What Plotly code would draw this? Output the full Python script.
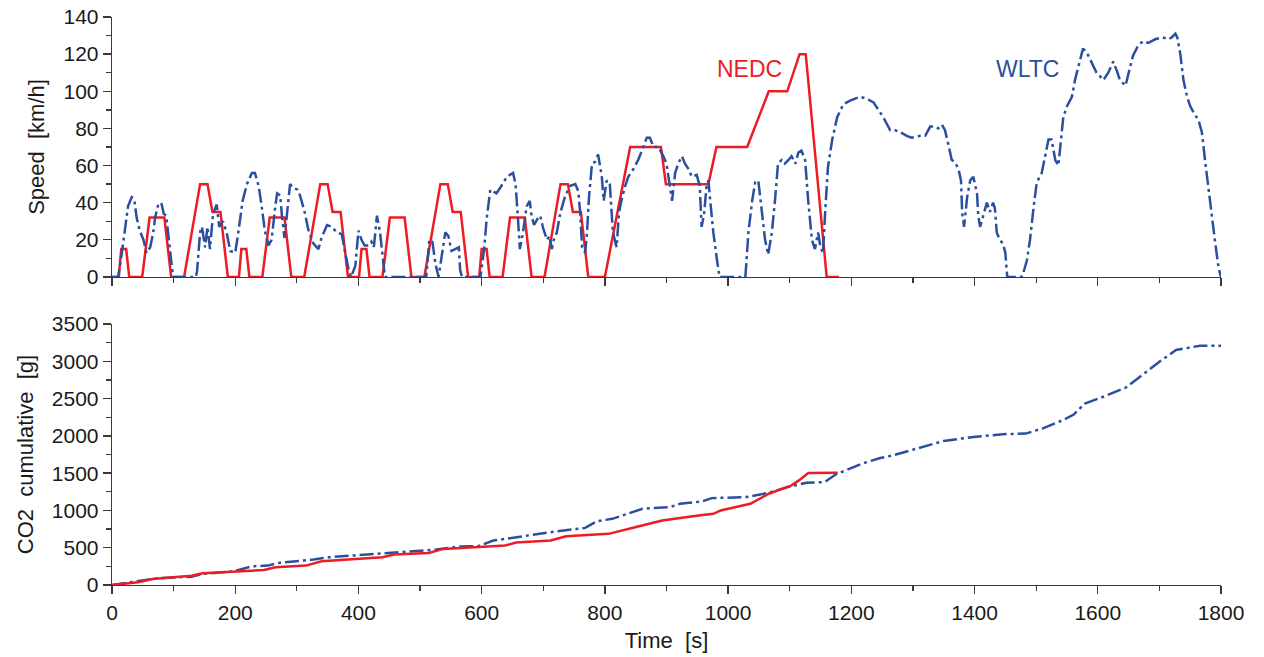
import plotly.graph_objects as go

# ---------------- data ----------------
# NEDC speed profile (time s, speed km/h)
nedc_t = [0, 11, 15, 23, 28, 49, 61, 85, 96, 117, 143, 155, 163, 176, 188,
          195, 206, 210, 218, 223, 244, 256, 280, 291, 312, 338, 350, 358, 371, 383,
          390, 401, 405, 413, 418, 439, 451, 475, 486, 507, 533, 545, 553, 566, 578,
          585, 596, 600, 608, 613, 634, 646, 670, 681, 702, 728, 740, 748, 761, 773,
          780, 800, 841, 891, 899, 968, 981, 1031, 1066, 1096, 1116, 1126, 1160, 1180]
nedc_v = [0, 0, 15, 15, 0, 0, 32, 32, 0, 0, 50, 50, 35, 35, 0,
          0, 0, 15, 15, 0, 0, 32, 32, 0, 0, 50, 50, 35, 35, 0,
          0, 0, 15, 15, 0, 0, 32, 32, 0, 0, 50, 50, 35, 35, 0,
          0, 0, 15, 15, 0, 0, 32, 32, 0, 0, 50, 50, 35, 35, 0,
          0, 0, 70, 70, 50, 50, 70, 70, 100, 100, 120, 120, 0, 0]

# WLTC speed profile
wltc_t = [0, 10, 16, 21, 26, 32, 36, 40, 45, 51, 56, 62, 67, 70, 75, 80, 84, 88, 91, 95, 99,
          136, 138, 143, 146, 151, 155, 159, 164, 170, 174, 180, 186, 192, 200, 205, 212, 219,
          227, 232, 238, 243, 248, 254, 259, 265, 268, 273, 276, 280, 283, 289, 294, 301, 305,
          312, 319, 327, 335, 340, 349, 357, 365, 373, 378, 384, 388, 395, 400, 405, 410, 416,
          421, 425, 430, 435, 441, 443, 510, 515, 520, 525, 530, 536, 541, 546, 551, 557, 563,
          565, 568, 598, 604, 608, 614, 619, 624, 632, 641, 651, 655, 659, 662, 667, 673, 678,
          681, 685, 690, 695, 700, 706, 710, 714, 717, 722, 728, 735, 743, 752, 757, 760, 763,
          768, 771, 774, 779, 784, 789, 795, 798, 803, 808, 813, 819, 823, 828, 833, 838, 846,
          854, 860, 868, 873, 879, 887, 895, 900, 906, 909, 914, 919, 925, 930, 936, 941, 949,
          954, 957, 961, 965, 968, 971, 976, 982, 986, 1028, 1033, 1039, 1044, 1049, 1055, 1060,
          1065, 1071, 1076, 1081, 1087, 1092, 1098, 1103, 1109, 1114, 1119, 1125, 1130, 1136,
          1141, 1146, 1150, 1154, 1157, 1162, 1169, 1177, 1187, 1198, 1214, 1225, 1236, 1244,
          1252, 1263, 1271, 1279, 1290, 1298, 1312, 1320, 1328, 1336, 1341, 1347, 1352, 1357,
          1363, 1368, 1374, 1378, 1380, 1383, 1388, 1393, 1398, 1404, 1406, 1409, 1414, 1420,
          1425, 1430, 1433, 1436, 1441, 1446, 1450, 1453, 1476, 1479, 1485, 1490, 1496, 1501,
          1509, 1515, 1520, 1525, 1531, 1536, 1540, 1544, 1550, 1558, 1563, 1568, 1576, 1582,
          1590, 1598, 1604, 1609, 1617, 1625, 1631, 1636, 1645, 1650, 1657, 1666, 1674, 1682,
          1693, 1705, 1715, 1720, 1726, 1729, 1734, 1739, 1745, 1750, 1758, 1763, 1769, 1774,
          1779, 1785, 1790, 1796, 1800]
wltc_v = [0, 0, 13, 27, 38, 43, 42, 32, 25, 20, 13, 16, 24, 32, 39, 40, 34, 33, 24, 9, 0,
          0, 3, 24, 27, 16, 27, 15, 34, 39, 27, 30, 24, 14, 13, 24, 41, 50,
          56, 56, 49, 38, 25, 17, 20, 38, 45, 44, 32, 21, 32, 50, 48, 47, 44,
          36, 25, 18, 15, 21, 28, 27, 24, 23, 14, 4, 0, 6, 25, 20, 17, 17,
          19, 16, 33, 24, 6, 0, 0, 20, 19, 7, 0, 12, 24, 22, 14, 15, 16,
          4, 0, 0, 15, 31, 47, 46, 45, 49, 54, 56, 50, 31, 15, 24, 38, 41,
          33, 28, 31, 33, 26, 20, 22, 15, 20, 24, 35, 43, 49, 50, 46, 34, 16,
          13, 24, 42, 61, 62, 66, 54, 41, 52, 50, 24, 16, 35, 43, 49, 54, 58,
          63, 68, 75, 75, 70, 70, 65, 61, 49, 41, 56, 61, 65, 61, 58, 54, 55,
          49, 27, 34, 49, 52, 41, 24, 9, 0, 0, 24, 41, 51, 52, 34, 20,
          12, 24, 41, 61, 63, 61, 63, 65, 61, 67, 68, 63, 41, 20,
          15, 24, 16, 13, 32, 59, 74, 86, 93, 95, 97, 96, 94, 90,
          86, 79, 79, 78, 76, 75, 76, 76, 81, 81, 80, 82, 79, 72,
          63, 62, 58, 52, 34, 27, 43, 52, 54, 45, 33, 27, 33, 40,
          35, 40, 37, 24, 20, 18, 13, 0, 0, 2, 9, 20, 38, 51,
          56, 67, 74, 74, 63, 60, 74, 86, 92, 97, 106, 113, 123, 121,
          115, 110, 108, 106, 110, 116, 111, 106, 103, 110, 119, 125, 127, 126,
          128, 129, 128, 129, 131, 129, 120, 106, 97, 92, 87, 85, 78, 63,
          49, 34, 20, 5, 0]

# cumulative CO2 (time s, g)
nedc_co2_t = [0, 42, 66, 97, 129, 147, 197, 247, 265, 315, 340, 402, 439, 458, 514, 538,
              594, 638, 656, 712, 737, 806, 849, 893, 952, 976, 988, 1036, 1066, 1103,
              1115, 1130, 1178]
nedc_co2 = [0, 36, 81, 103, 125, 157, 184, 202, 238, 260, 318, 350, 372, 408, 430, 484,
            506, 529, 569, 596, 654, 686, 775, 865, 932, 955, 1000, 1089, 1224, 1336,
            1403, 1502, 1506]

wltc_co2_t = [0, 42, 73, 129, 147, 197, 228, 253, 271, 327, 352, 414, 482, 526, 563, 594,
              619, 662, 712, 768, 787, 812, 861, 905, 922, 958, 973, 1030, 1066, 1097,
              1127, 1157, 1175, 1217, 1247, 1268, 1320, 1350, 1398, 1446, 1483, 1513,
              1543, 1561, 1579, 1609, 1646, 1670, 1700, 1727, 1742, 1766, 1800]
wltc_co2 = [0, 49, 90, 112, 148, 184, 251, 260, 296, 341, 372, 408, 453, 475, 515, 520,
            596, 650, 708, 766, 856, 887, 1022, 1044, 1089, 1120, 1165, 1179, 1237, 1313,
            1372, 1381, 1484, 1627, 1703, 1739, 1860, 1932, 1986, 2022, 2030, 2107,
            2210, 2286, 2434, 2524, 2649, 2801, 2994, 3151, 3173, 3209, 3209]

x_ticks = [0, 200, 400, 600, 800, 1000, 1200, 1400, 1600, 1800]
speed_ticks = [0, 20, 40, 60, 80, 100, 120, 140]
co2_ticks = [0, 500, 1000, 1500, 2000, 2500, 3000, 3500]

# ---------------- style ----------------
RED = "#ED1C24"
BLUE = "#2A4FA0"
AX = "#3a3a3a"
FONT = "Liberation Sans, Arial, sans-serif"
DASH = "14px,4px,3px,4px"

fig = go.Figure()
fig.add_trace(go.Scatter(x=nedc_t, y=nedc_v, mode="lines", xaxis="x2", yaxis="y2",
                         line=dict(color=RED, width=2.5), name="NEDC", showlegend=False))
fig.add_trace(go.Scatter(x=wltc_t, y=wltc_v, mode="lines", xaxis="x2", yaxis="y2",
                         line=dict(color=BLUE, width=2.5, dash=DASH), name="WLTC", showlegend=False))
fig.add_trace(go.Scatter(x=wltc_co2_t, y=wltc_co2, mode="lines", xaxis="x", yaxis="y",
                         line=dict(color=BLUE, width=2.5, dash=DASH), name="WLTC", showlegend=False))
fig.add_trace(go.Scatter(x=nedc_co2_t, y=nedc_co2, mode="lines", xaxis="x", yaxis="y",
                         line=dict(color=RED, width=2.5), name="NEDC", showlegend=False))

common_axis = dict(showline=True, linecolor=AX, linewidth=1.3, ticks="outside", ticklen=8,
                   tickwidth=1.3, tickcolor=AX, showgrid=False, zeroline=False,
                   automargin=False, ticklabeloverflow="allow",
                   tickfont=dict(family=FONT, size=21, color="#1a1a1a"))

fig.update_layout(
    width=1264, height=657,
    margin=dict(l=112, r=43, t=17, b=72),
    paper_bgcolor="white", plot_bgcolor="white",
    font=dict(family=FONT, size=21, color="#1a1a1a"),
    xaxis=dict(**common_axis, range=[0, 1800], tickvals=x_ticks, anchor="y",
               domain=[0, 1],
               minor=dict(ticks="outside", ticklen=5, dtick=100, tick0=0, tickcolor=AX, tickwidth=1.3),
               title=dict(text="Time\u00a0\u00a0[s]", standoff=10, font=dict(size=22))),
    yaxis=dict(**common_axis, range=[0, 3500], tickvals=co2_ticks, anchor="x",
               domain=[0, 0.4595],
               minor=dict(ticks="outside", ticklen=5, dtick=250, tick0=0, tickcolor=AX, tickwidth=1.3),
               title=dict(text="CO2\u00a0\u00a0cumulative\u00a0\u00a0[g]", standoff=12, font=dict(size=22))),
    xaxis2=dict(**common_axis, range=[0, 1800], tickvals=x_ticks, anchor="y2",
                showticklabels=False, matches="x",
                minor=dict(ticks="outside", ticklen=5, dtick=100, tick0=0, tickcolor=AX, tickwidth=1.3)),
    yaxis2=dict(**common_axis, range=[0, 140], tickvals=speed_ticks, anchor="x2",
                domain=[0.5423, 1],
                minor=dict(ticks="outside", ticklen=5, dtick=10, tick0=0, tickcolor=AX, tickwidth=1.3),
                title=dict(text="Speed\u00a0\u00a0[km/h]", standoff=12, font=dict(size=22))),
    annotations=[
        dict(x=1034, y=112, xref="x2", yref="y2", text="NEDC", showarrow=False,
             font=dict(family=FONT, size=23, color=RED)),
        dict(x=1486, y=112, xref="x2", yref="y2", text="WLTC", showarrow=False,
             font=dict(family=FONT, size=23, color=BLUE)),
    ],
)

fig.write_html("out.html",
               config={"displayModeBar": False, "staticPlot": True},
               post_script="document.body.style.margin='0';document.body.style.overflow='hidden';")
